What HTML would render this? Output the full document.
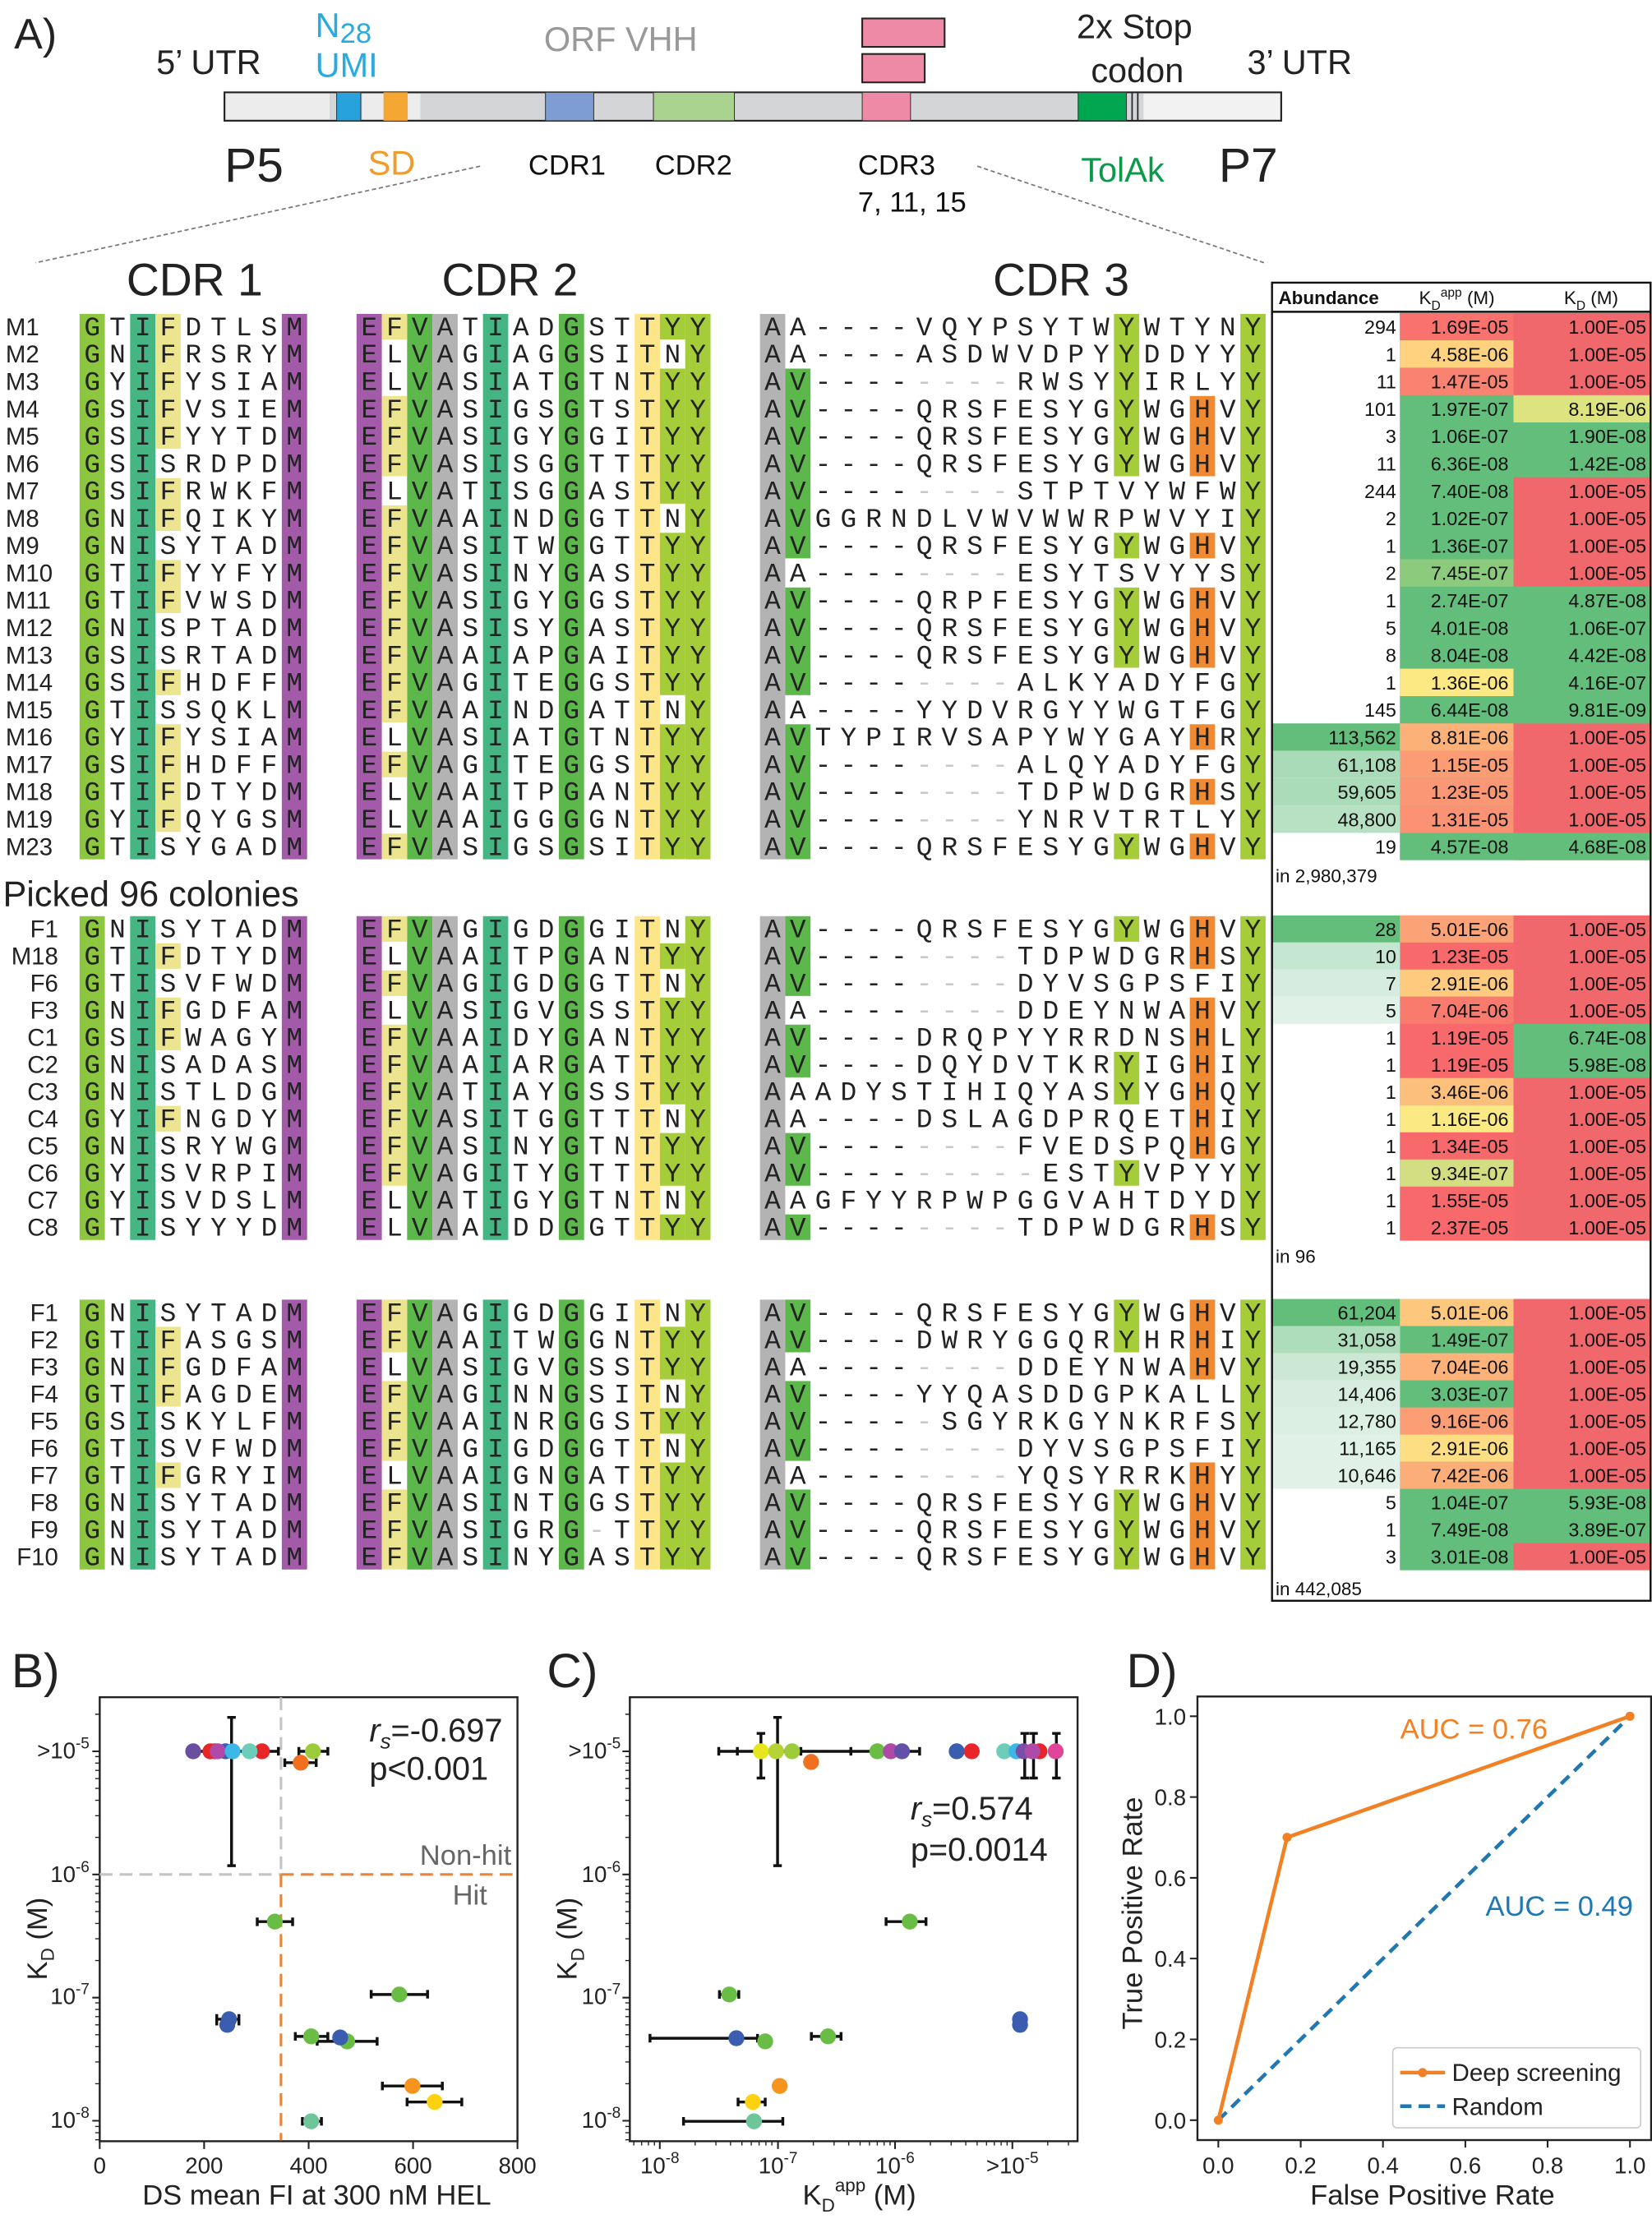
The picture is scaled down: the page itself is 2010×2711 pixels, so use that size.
<!DOCTYPE html>
<html><head><meta charset="utf-8"><style>
html,body{margin:0;padding:0;background:#fff;width:2010px;height:2711px;overflow:hidden}
svg{display:block}
text{font-family:"Liberation Sans",sans-serif}
.s{font-family:"Liberation Mono",monospace;font-size:19px;letter-spacing:6.4px;fill:#222}
.g{fill:#c8c8c8}
.n{font-size:17px;fill:#222}
.ne{font-size:17px;fill:#222;text-anchor:end}
.t{font-size:13.5px;fill:#111;text-anchor:end}
.tk{font-size:16px;fill:#222}
</style></head><body>
<svg xmlns="http://www.w3.org/2000/svg" width="2010" height="2711" viewBox="0 0 1163 1568.6">
<rect width="1163" height="1568.6" fill="#fff"/>
<!-- Panel A diagram -->
<text x="10" y="34" font-size="30" fill="#222">A)</text>
<text x="110" y="52" font-size="24" fill="#222">5’ UTR</text>
<text x="222" y="26" font-size="24" fill="#29aae1">N<tspan font-size="20" dy="4">28</tspan></text>
<text x="222" y="54" font-size="24" fill="#29aae1">UMI</text>
<text x="383" y="36" font-size="24" fill="#999">ORF VHH</text>
<text x="758" y="27" font-size="24" fill="#222">2x Stop</text>
<text x="768" y="58" font-size="24" fill="#222">codon</text>
<text x="878" y="52" font-size="24" fill="#222">3’ UTR</text>
<rect x="158" y="65" width="744" height="20" fill="#d4d5d6" stroke="#222" stroke-width="1.2"/>
<rect x="159" y="66" width="73" height="18" fill="#ececec"/>
<rect x="255" y="66" width="41" height="18" fill="#ececec"/>
<rect x="805" y="66" width="96" height="18" fill="#f2f2f2"/>
<rect x="237" y="65" width="17" height="20" fill="#27a2dc" stroke="#333" stroke-width="0.6"/>
<rect x="270" y="65" width="17" height="20" fill="#f5a733"/>
<rect x="384" y="65" width="34" height="20" fill="#7e9dd2" stroke="#333" stroke-width="0.6"/>
<rect x="460" y="65" width="57" height="20" fill="#a9d38e" stroke="#333" stroke-width="0.6"/>
<rect x="607" y="65" width="34" height="20" fill="#ee8aa6" stroke="#333" stroke-width="0.6"/>
<rect x="607" y="13" width="58" height="20" fill="#ee8aa6" stroke="#222" stroke-width="1.2"/>
<rect x="607" y="38" width="44" height="20" fill="#ee8aa6" stroke="#222" stroke-width="1.2"/>
<rect x="759" y="65" width="34" height="20" fill="#00a650" stroke="#333" stroke-width="0.6"/>
<line x1="797" y1="65" x2="797" y2="85" stroke="#222" stroke-width="1"/>
<line x1="801" y1="65" x2="801" y2="85" stroke="#222" stroke-width="1"/>
<text x="158" y="128" font-size="34" fill="#222">P5</text>
<text x="259" y="123" font-size="24" fill="#f29b2a">SD</text>
<text x="372" y="123" font-size="20" fill="#111">CDR1</text>
<text x="461" y="123" font-size="20" fill="#111">CDR2</text>
<text x="604" y="123" font-size="20" fill="#111">CDR3</text>
<text x="604" y="149" font-size="20" fill="#111">7, 11, 15</text>
<text x="761" y="128" font-size="24" fill="#0a9a4a">TolAk</text>
<text x="858" y="128" font-size="34" fill="#222">P7</text>
<line x1="338" y1="117" x2="25" y2="185" stroke="#777" stroke-width="1" stroke-dasharray="3,2"/>
<line x1="688" y1="117" x2="890" y2="185" stroke="#777" stroke-width="1" stroke-dasharray="3,2"/>
<text x="137" y="208" font-size="32" fill="#222" text-anchor="middle">CDR 1</text>
<text x="359" y="208" font-size="32" fill="#222" text-anchor="middle">CDR 2</text>
<text x="747" y="208" font-size="32" fill="#222" text-anchor="middle">CDR 3</text>
<text x="2" y="638" font-size="25" fill="#222">Picked 96 colonies</text>

<!-- ===== full column backgrounds ===== -->
<g fill="#8dc63f">
<rect x="56" y="221" width="17.8" height="384"/><rect x="56" y="645" width="17.8" height="228"/><rect x="56" y="915" width="17.8" height="190"/>
</g>
<g fill="#45b583">
<rect x="91.6" y="221" width="17.8" height="384"/><rect x="91.6" y="645" width="17.8" height="228"/><rect x="91.6" y="915" width="17.8" height="190"/>
<rect x="340" y="221" width="17.8" height="384"/><rect x="340" y="645" width="17.8" height="228"/><rect x="340" y="915" width="17.8" height="190"/>
</g>
<g fill="#a35ba9">
<rect x="198.4" y="221" width="17.8" height="384"/><rect x="198.4" y="645" width="17.8" height="228"/><rect x="198.4" y="915" width="17.8" height="190"/>
<rect x="251" y="221" width="17.8" height="384"/><rect x="251" y="645" width="17.8" height="228"/><rect x="251" y="915" width="17.8" height="190"/>
</g>
<g fill="#5cb84a">
<rect x="286.6" y="221" width="17.8" height="384"/><rect x="286.6" y="645" width="17.8" height="228"/><rect x="286.6" y="915" width="17.8" height="190"/>
<rect x="393.4" y="221" width="17.8" height="384"/><rect x="393.4" y="645" width="17.8" height="228"/><rect x="393.4" y="915" width="17.8" height="190"/>
</g>
<g fill="#b3b3b3">
<rect x="304.4" y="221" width="17.8" height="384"/><rect x="304.4" y="645" width="17.8" height="228"/><rect x="304.4" y="915" width="17.8" height="190"/>
<rect x="535" y="221" width="17.8" height="384"/><rect x="535" y="645" width="17.8" height="228"/><rect x="535" y="915" width="17.8" height="190"/>
</g>
<g fill="#fde58a">
<rect x="446.8" y="221" width="17.8" height="384"/><rect x="446.8" y="645" width="17.8" height="228"/><rect x="446.8" y="915" width="17.8" height="190"/>
</g>
<g fill="#a4cd39">
<rect x="482.4" y="221" width="17.8" height="384"/><rect x="482.4" y="645" width="17.8" height="228"/><rect x="482.4" y="915" width="17.8" height="190"/>
<rect x="873.2" y="221" width="17.8" height="384"/><rect x="873.2" y="645" width="17.8" height="228"/><rect x="873.2" y="915" width="17.8" height="190"/>
</g>
<g fill="#ece48e">
<rect x="109.4" y="221" width="17.8" height="95"/><rect x="109.4" y="336.6" width="17.8" height="37.2"/><rect x="109.4" y="394.3" width="17.8" height="37.3"/><rect x="109.4" y="471.4" width="17.8" height="18"/><rect x="109.4" y="509.9" width="17.8" height="75.8"/>
<rect x="109.4" y="664.1" width="17.8" height="18"/><rect x="109.4" y="702.3" width="17.8" height="37.1"/><rect x="109.4" y="778.6" width="17.8" height="18"/>
<rect x="109.4" y="934.1" width="17.8" height="56.2"/><rect x="109.4" y="1029.6" width="17.8" height="18"/>
<rect x="268.8" y="221" width="17.8" height="18"/><rect x="268.8" y="278.8" width="17.8" height="56.5"/><rect x="268.8" y="355.8" width="17.8" height="152.8"/><rect x="268.8" y="529.2" width="17.8" height="18"/><rect x="268.8" y="586.9" width="17.8" height="18"/>
<rect x="268.8" y="645" width="17.8" height="18"/><rect x="268.8" y="683.2" width="17.8" height="18"/><rect x="268.8" y="721.4" width="17.8" height="113.4"/>
<rect x="268.8" y="915" width="17.8" height="37.1"/><rect x="268.8" y="972.3" width="17.8" height="56.2"/><rect x="268.8" y="1048.7" width="17.8" height="56.2"/>
</g>
<g fill="#a4cd39">
<rect x="464.6" y="221" width="17.8" height="18"/><rect x="464.6" y="259.5" width="17.8" height="95.1"/><rect x="464.6" y="375.1" width="17.8" height="114.3"/><rect x="464.6" y="509.9" width="17.8" height="95"/>
<rect x="464.6" y="664.1" width="17.8" height="18"/><rect x="464.6" y="702.3" width="17.8" height="75.2"/><rect x="464.6" y="797.7" width="17.8" height="37.1"/><rect x="464.6" y="855" width="17.8" height="18"/>
<rect x="464.6" y="934.1" width="17.8" height="37.1"/><rect x="464.6" y="991.4" width="17.8" height="18"/><rect x="464.6" y="1029.6" width="17.8" height="75.3"/>
<rect x="784.2" y="221" width="17.8" height="114.3"/><rect x="784.2" y="375.1" width="17.8" height="18"/><rect x="784.2" y="413.6" width="17.8" height="56.5"/><rect x="784.2" y="586.9" width="17.8" height="18"/>
<rect x="784.2" y="645" width="17.8" height="18"/><rect x="784.2" y="740.5" width="17.8" height="37"/><rect x="784.2" y="816.8" width="17.8" height="18"/>
<rect x="784.2" y="915" width="17.8" height="37.1"/><rect x="784.2" y="1048.7" width="17.8" height="56.2"/>
</g>
<g fill="#5cb84a">
<rect x="552.8" y="259.5" width="17.8" height="133.6"/><rect x="552.8" y="413.6" width="17.8" height="75.8"/><rect x="552.8" y="509.9" width="17.8" height="95"/>
<rect x="552.8" y="645" width="17.8" height="56.2"/><rect x="552.8" y="721.4" width="17.8" height="37.1"/><rect x="552.8" y="797.7" width="17.8" height="37.1"/><rect x="552.8" y="855" width="17.8" height="18"/>
<rect x="552.8" y="915" width="17.8" height="37.1"/><rect x="552.8" y="972.3" width="17.8" height="56.2"/><rect x="552.8" y="1048.7" width="17.8" height="56.2"/>
</g>
<g fill="#f08a32">
<rect x="837.6" y="278.8" width="17.8" height="56.5"/><rect x="837.6" y="375.1" width="17.8" height="18"/><rect x="837.6" y="413.6" width="17.8" height="56.5"/><rect x="837.6" y="509.9" width="17.8" height="18"/><rect x="837.6" y="548.4" width="17.8" height="18"/><rect x="837.6" y="586.9" width="17.8" height="18"/>
<rect x="837.6" y="645" width="17.8" height="37.1"/><rect x="837.6" y="702.3" width="17.8" height="113.4"/><rect x="837.6" y="855" width="17.8" height="18"/>
<rect x="837.6" y="915" width="17.8" height="56.2"/><rect x="837.6" y="1029.6" width="17.8" height="75.3"/>
</g>

<!-- ===== Section 1 sequences ===== -->
<g>
<text class="n" x="4" y="236">M1</text><text class="s" x="59.2" y="236">GTIFDTLSM</text><text class="s" x="254.2" y="236">EFVATIADGSTTYY</text><text class="s" x="538.2" y="236">AA----VQYPSYTWYWTYNY</text>
<text class="n" x="4" y="255.3">M2</text><text class="s" x="59.2" y="255.3">GNIFRSRYM</text><text class="s" x="254.2" y="255.3">ELVAGIAGGSITNY</text><text class="s" x="538.2" y="255.3">AA----ASDWVDPYYDDYYY</text>
<text class="n" x="4" y="274.5">M3</text><text class="s" x="59.2" y="274.5">GYIFYSIAM</text><text class="s" x="254.2" y="274.5">ELVASIATGTNTYY</text><text class="s" x="538.2" y="274.5">AV----<tspan class="g">----</tspan>RWSYYIRLYY</text>
<text class="n" x="4" y="293.8">M4</text><text class="s" x="59.2" y="293.8">GSIFVSIEM</text><text class="s" x="254.2" y="293.8">EFVASIGSGTSTYY</text><text class="s" x="538.2" y="293.8">AV----QRSFESYGYWGHVY</text>
<text class="n" x="4" y="313">M5</text><text class="s" x="59.2" y="313">GSIFYYTDM</text><text class="s" x="254.2" y="313">EFVASIGYGGITYY</text><text class="s" x="538.2" y="313">AV----QRSFESYGYWGHVY</text>
<text class="n" x="4" y="332.3">M6</text><text class="s" x="59.2" y="332.3">GSISRDPDM</text><text class="s" x="254.2" y="332.3">EFVASISGGTTTYY</text><text class="s" x="538.2" y="332.3">AV----QRSFESYGYWGHVY</text>
<text class="n" x="4" y="351.6">M7</text><text class="s" x="59.2" y="351.6">GSIFRWKFM</text><text class="s" x="254.2" y="351.6">ELVATISGGASTYY</text><text class="s" x="538.2" y="351.6">AV----<tspan class="g">----</tspan>STPTVYWFWY</text>
<text class="n" x="4" y="370.8">M8</text><text class="s" x="59.2" y="370.8">GNIFQIKYM</text><text class="s" x="254.2" y="370.8">EFVAAINDGGTTNY</text><text class="s" x="538.2" y="370.8">AVGGRNDLVWVWWRPWVYIY</text>
<text class="n" x="4" y="390.1">M9</text><text class="s" x="59.2" y="390.1">GNISYTADM</text><text class="s" x="254.2" y="390.1">EFVASITWGGTTYY</text><text class="s" x="538.2" y="390.1">AV----QRSFESYGYWGHVY</text>
<text class="n" x="4" y="409.3">M10</text><text class="s" x="59.2" y="409.3">GTIFYYFYM</text><text class="s" x="254.2" y="409.3">EFVASINYGASTYY</text><text class="s" x="538.2" y="409.3">AA----<tspan class="g">----</tspan>ESYTSVYYSY</text>
<text class="n" x="4" y="428.6">M11</text><text class="s" x="59.2" y="428.6">GTIFVWSDM</text><text class="s" x="254.2" y="428.6">EFVASIGYGGSTYY</text><text class="s" x="538.2" y="428.6">AV----QRPFESYGYWGHVY</text>
<text class="n" x="4" y="447.9">M12</text><text class="s" x="59.2" y="447.9">GNISPTADM</text><text class="s" x="254.2" y="447.9">EFVASISYGASTYY</text><text class="s" x="538.2" y="447.9">AV----QRSFESYGYWGHVY</text>
<text class="n" x="4" y="467.1">M13</text><text class="s" x="59.2" y="467.1">GSISRTADM</text><text class="s" x="254.2" y="467.1">EFVAAIAPGAITYY</text><text class="s" x="538.2" y="467.1">AV----QRSFESYGYWGHVY</text>
<text class="n" x="4" y="486.4">M14</text><text class="s" x="59.2" y="486.4">GSIFHDFFM</text><text class="s" x="254.2" y="486.4">EFVAGITEGGSTYY</text><text class="s" x="538.2" y="486.4">AV----<tspan class="g">----</tspan>ALKYADYFGY</text>
<text class="n" x="4" y="505.6">M15</text><text class="s" x="59.2" y="505.6">GTISSQKLM</text><text class="s" x="254.2" y="505.6">EFVAAINDGATTNY</text><text class="s" x="538.2" y="505.6">AA----YYDVRGYYWGTFGY</text>
<text class="n" x="4" y="524.9">M16</text><text class="s" x="59.2" y="524.9">GYIFYSIAM</text><text class="s" x="254.2" y="524.9">ELVASIATGTNTYY</text><text class="s" x="538.2" y="524.9">AVTYPIRVSAPYWYGAYHRY</text>
<text class="n" x="4" y="544.2">M17</text><text class="s" x="59.2" y="544.2">GSIFHDFFM</text><text class="s" x="254.2" y="544.2">EFVAGITEGGSTYY</text><text class="s" x="538.2" y="544.2">AV----<tspan class="g">----</tspan>ALQYADYFGY</text>
<text class="n" x="4" y="563.4">M18</text><text class="s" x="59.2" y="563.4">GTIFDTYDM</text><text class="s" x="254.2" y="563.4">ELVAAITPGANTYY</text><text class="s" x="538.2" y="563.4">AV----<tspan class="g">----</tspan>TDPWDGRHSY</text>
<text class="n" x="4" y="582.7">M19</text><text class="s" x="59.2" y="582.7">GYIFQYGSM</text><text class="s" x="254.2" y="582.7">ELVAAIGGGGNTYY</text><text class="s" x="538.2" y="582.7">AV----<tspan class="g">----</tspan>YNRVTRTLYY</text>
<text class="n" x="4" y="601.9">M23</text><text class="s" x="59.2" y="601.9">GTISYGADM</text><text class="s" x="254.2" y="601.9">EFVASIGSGSITYY</text><text class="s" x="538.2" y="601.9">AV----QRSFESYGYWGHVY</text>
</g>
<!-- ===== Section 2 sequences ===== -->
<g>
<text class="ne" x="41" y="660">F1</text><text class="s" x="59.2" y="660">GNISYTADM</text><text class="s" x="254.2" y="660">EFVAGIGDGGITNY</text><text class="s" x="538.2" y="660">AV----QRSFESYGYWGHVY</text>
<text class="ne" x="41" y="679.1">M18</text><text class="s" x="59.2" y="679.1">GTIFDTYDM</text><text class="s" x="254.2" y="679.1">ELVAAITPGANTYY</text><text class="s" x="538.2" y="679.1">AV----<tspan class="g">----</tspan>TDPWDGRHSY</text>
<text class="ne" x="41" y="698.2">F6</text><text class="s" x="59.2" y="698.2">GTISVFWDM</text><text class="s" x="254.2" y="698.2">EFVAGIGDGGTTNY</text><text class="s" x="538.2" y="698.2">AV----<tspan class="g">----</tspan>DYVSGPSFIY</text>
<text class="ne" x="41" y="717.3">F3</text><text class="s" x="59.2" y="717.3">GNIFGDFAM</text><text class="s" x="254.2" y="717.3">ELVASIGVGSSTYY</text><text class="s" x="538.2" y="717.3">AA----<tspan class="g">----</tspan>DDEYNWAHVY</text>
<text class="ne" x="41" y="736.4">C1</text><text class="s" x="59.2" y="736.4">GSIFWAGYM</text><text class="s" x="254.2" y="736.4">EFVAAIDYGANTYY</text><text class="s" x="538.2" y="736.4">AV----DRQPYYRRDNSHLY</text>
<text class="ne" x="41" y="755.5">C2</text><text class="s" x="59.2" y="755.5">GNISADASM</text><text class="s" x="254.2" y="755.5">EFVAAIARGATTYY</text><text class="s" x="538.2" y="755.5">AV----DQYDVTKRYIGHIY</text>
<text class="ne" x="41" y="774.5">C3</text><text class="s" x="59.2" y="774.5">GNISTLDGM</text><text class="s" x="254.2" y="774.5">EFVATIAYGSSTYY</text><text class="s" x="538.2" y="774.5">AAADYSTIHIQYASYYGHQY</text>
<text class="ne" x="41" y="793.6">C4</text><text class="s" x="59.2" y="793.6">GYIFNGDYM</text><text class="s" x="254.2" y="793.6">EFVASITGGTTTNY</text><text class="s" x="538.2" y="793.6">AA----DSLAGDPRQETHIY</text>
<text class="ne" x="41" y="812.7">C5</text><text class="s" x="59.2" y="812.7">GNISRYWGM</text><text class="s" x="254.2" y="812.7">EFVASINYGTNTYY</text><text class="s" x="538.2" y="812.7">AV----<tspan class="g">----</tspan>FVEDSPQHGY</text>
<text class="ne" x="41" y="831.8">C6</text><text class="s" x="59.2" y="831.8">GYISVRPIM</text><text class="s" x="254.2" y="831.8">EFVAGITYGTTTYY</text><text class="s" x="538.2" y="831.8">AV----<tspan class="g">-----</tspan>ESTYVPYYY</text>
<text class="ne" x="41" y="850.9">C7</text><text class="s" x="59.2" y="850.9">GYISVDSLM</text><text class="s" x="254.2" y="850.9">ELVATIGYGTNTNY</text><text class="s" x="538.2" y="850.9">AAGFYYRPWPGGVAHTDYDY</text>
<text class="ne" x="41" y="870">C8</text><text class="s" x="59.2" y="870">GTISYYYDM</text><text class="s" x="254.2" y="870">ELVAAIDDGGTTYY</text><text class="s" x="538.2" y="870">AV----<tspan class="g">----</tspan>TDPWDGRHSY</text>
</g>
<!-- ===== Section 3 sequences ===== -->
<g>
<text class="ne" x="41" y="930">F1</text><text class="s" x="59.2" y="930">GNISYTADM</text><text class="s" x="254.2" y="930">EFVAGIGDGGITNY</text><text class="s" x="538.2" y="930">AV----QRSFESYGYWGHVY</text>
<text class="ne" x="41" y="949.1">F2</text><text class="s" x="59.2" y="949.1">GTIFASGSM</text><text class="s" x="254.2" y="949.1">EFVAAITWGGNTYY</text><text class="s" x="538.2" y="949.1">AV----DWRYGGQRYHRHIY</text>
<text class="ne" x="41" y="968.2">F3</text><text class="s" x="59.2" y="968.2">GNIFGDFAM</text><text class="s" x="254.2" y="968.2">ELVASIGVGSSTYY</text><text class="s" x="538.2" y="968.2">AA----<tspan class="g">----</tspan>DDEYNWAHVY</text>
<text class="ne" x="41" y="987.3">F4</text><text class="s" x="59.2" y="987.3">GTIFAGDEM</text><text class="s" x="254.2" y="987.3">EFVAGINNGSITNY</text><text class="s" x="538.2" y="987.3">AV----YYQASDDGPKALLY</text>
<text class="ne" x="41" y="1006.4">F5</text><text class="s" x="59.2" y="1006.4">GSISKYLFM</text><text class="s" x="254.2" y="1006.4">EFVAAINRGGSTYY</text><text class="s" x="538.2" y="1006.4">AV----<tspan class="g">-</tspan>SGYRKGYNKRFSY</text>
<text class="ne" x="41" y="1025.5">F6</text><text class="s" x="59.2" y="1025.5">GTISVFWDM</text><text class="s" x="254.2" y="1025.5">EFVAGIGDGGTTNY</text><text class="s" x="538.2" y="1025.5">AV----<tspan class="g">----</tspan>DYVSGPSFIY</text>
<text class="ne" x="41" y="1044.6">F7</text><text class="s" x="59.2" y="1044.6">GTIFGRYIM</text><text class="s" x="254.2" y="1044.6">ELVAAIGNGATTYY</text><text class="s" x="538.2" y="1044.6">AA----<tspan class="g">----</tspan>YQSYRRKHYY</text>
<text class="ne" x="41" y="1063.7">F8</text><text class="s" x="59.2" y="1063.7">GNISYTADM</text><text class="s" x="254.2" y="1063.7">EFVASINTGGSTYY</text><text class="s" x="538.2" y="1063.7">AV----QRSFESYGYWGHVY</text>
<text class="ne" x="41" y="1082.8">F9</text><text class="s" x="59.2" y="1082.8">GNISYTADM</text><text class="s" x="254.2" y="1082.8">EFVASIGRG<tspan class="g">-</tspan>TTYY</text><text class="s" x="538.2" y="1082.8">AV----QRSFESYGYWGHVY</text>
<text class="ne" x="41" y="1101.9">F10</text><text class="s" x="59.2" y="1101.9">GNISYTADM</text><text class="s" x="254.2" y="1101.9">EFVASINYGASTYY</text><text class="s" x="538.2" y="1101.9">AV----QRSFESYGYWGHVY</text>
</g>

<!-- ===== Table ===== -->
<g>
<rect x="985.5" y="220.4" width="80" height="385.2" fill="#63be7b"/>
<rect x="1065.5" y="220.4" width="96.5" height="385.2" fill="#f0686b"/>
<rect x="985.5" y="220.4" width="80" height="19.3" fill="#f9726d"/>
<rect x="985.5" y="239.6" width="80" height="19.3" fill="#fed27f"/>
<rect x="985.5" y="258.9" width="80" height="19.3" fill="#f98370"/>
<rect x="985.5" y="393.7" width="80" height="19.3" fill="#8ccb7e"/>
<rect x="985.5" y="470.8" width="80" height="19.3" fill="#fde984"/>
<rect x="985.5" y="509.3" width="80" height="19.3" fill="#fcb179"/>
<rect x="985.5" y="528.5" width="80" height="19.3" fill="#fb9c75"/>
<rect x="985.5" y="547.8" width="80" height="19.3" fill="#fb9774"/>
<rect x="985.5" y="567.1" width="80" height="19.3" fill="#fa9273"/>
<rect x="1065.5" y="278.2" width="96.5" height="19.3" fill="#dde37e"/>
<rect x="1065.5" y="297.4" width="96.5" height="38.6" fill="#63be7b"/>
<rect x="1065.5" y="413" width="96.5" height="96.4" fill="#63be7b"/>
<rect x="1065.5" y="586.3" width="96.5" height="19.3" fill="#63be7b"/>
<rect x="895.5" y="509.3" width="90" height="19.3" fill="#63be7b"/>
<rect x="895.5" y="528.5" width="90" height="19.3" fill="#a9dbb8"/>
<rect x="895.5" y="547.8" width="90" height="19.3" fill="#abdcb9"/>
<rect x="895.5" y="567.1" width="90" height="19.3" fill="#b8e1c4"/>
<rect x="985.5" y="644.5" width="80" height="229" fill="#f8696b"/>
<rect x="1065.5" y="644.5" width="96.5" height="229" fill="#f0686b"/>
<rect x="985.5" y="644.5" width="80" height="19.1" fill="#fba276"/>
<rect x="985.5" y="682.6" width="80" height="19.1" fill="#fdca7e"/>
<rect x="985.5" y="701.7" width="80" height="19.1" fill="#f97b6e"/>
<rect x="985.5" y="759" width="80" height="19.1" fill="#fdc07c"/>
<rect x="985.5" y="778.1" width="80" height="19.1" fill="#fbe983"/>
<rect x="985.5" y="816.3" width="80" height="19.1" fill="#d2de81"/>
<rect x="1065.5" y="720.8" width="96.5" height="38.2" fill="#63be7b"/>
<rect x="895.5" y="644.5" width="90" height="19.1" fill="#63be7b"/>
<rect x="895.5" y="663.5" width="90" height="19.1" fill="#c5e6d0"/>
<rect x="895.5" y="682.6" width="90" height="19.1" fill="#d6ece0"/>
<rect x="895.5" y="701.7" width="90" height="19.1" fill="#e0f1e7"/>
<rect x="985.5" y="914.5" width="80" height="191" fill="#63be7b"/>
<rect x="1065.5" y="914.5" width="96.5" height="191" fill="#f0686b"/>
<rect x="985.5" y="914.5" width="80" height="19.1" fill="#fdc77d"/>
<rect x="985.5" y="952.7" width="80" height="19.1" fill="#fcb279"/>
<rect x="985.5" y="990.9" width="80" height="19.1" fill="#fb9d75"/>
<rect x="985.5" y="1010" width="80" height="19.1" fill="#fede82"/>
<rect x="985.5" y="1029.1" width="80" height="19.1" fill="#fcae78"/>
<rect x="1065.5" y="1048.2" width="96.5" height="38.2" fill="#63be7b"/>
<rect x="895.5" y="914.5" width="90" height="19.1" fill="#63be7b"/>
<rect x="895.5" y="933.6" width="90" height="19.1" fill="#aeddbc"/>
<rect x="895.5" y="952.7" width="90" height="19.1" fill="#cce8d5"/>
<rect x="895.5" y="971.8" width="90" height="19.1" fill="#d8ede0"/>
<rect x="895.5" y="990.9" width="90" height="19.1" fill="#dcefe3"/>
<rect x="895.5" y="1010" width="90" height="19.1" fill="#e0f1e7"/>
<rect x="895.5" y="1029.1" width="90" height="19.1" fill="#e1f1e8"/>
<rect x="895.5" y="199" width="266.5" height="928" fill="none" stroke="#111" stroke-width="1.4"/>
<line x1="895.5" y1="219.5" x2="1162" y2="219.5" stroke="#111" stroke-width="1.4"/>
<text x="900" y="214" font-size="13" font-weight="bold" fill="#111">Abundance</text>
<text x="999" y="214" font-size="13" fill="#111">K<tspan font-size="9" dy="4">D</tspan><tspan font-size="9" dy="-9">app</tspan><tspan dy="5"> (M)</tspan></text>
<text x="1101" y="214" font-size="13" fill="#111">K<tspan font-size="9" dy="4">D</tspan><tspan dy="-4"> (M)</tspan></text>
<text x="898" y="621" font-size="13" fill="#111">in 2,980,379</text>
<text x="898" y="889" font-size="13" fill="#111">in 96</text>
<text x="898" y="1123" font-size="13" fill="#111">in 442,085</text>
</g>
<g>
<text class="t" x="983" y="235">294</text><text class="t" x="1062" y="235">1.69E-05</text><text class="t" x="1159" y="235">1.00E-05</text>
<text class="t" x="983" y="254.3">1</text><text class="t" x="1062" y="254.3">4.58E-06</text><text class="t" x="1159" y="254.3">1.00E-05</text>
<text class="t" x="983" y="273.5">11</text><text class="t" x="1062" y="273.5">1.47E-05</text><text class="t" x="1159" y="273.5">1.00E-05</text>
<text class="t" x="983" y="292.8">101</text><text class="t" x="1062" y="292.8">1.97E-07</text><text class="t" x="1159" y="292.8">8.19E-06</text>
<text class="t" x="983" y="312">3</text><text class="t" x="1062" y="312">1.06E-07</text><text class="t" x="1159" y="312">1.90E-08</text>
<text class="t" x="983" y="331.3">11</text><text class="t" x="1062" y="331.3">6.36E-08</text><text class="t" x="1159" y="331.3">1.42E-08</text>
<text class="t" x="983" y="350.6">244</text><text class="t" x="1062" y="350.6">7.40E-08</text><text class="t" x="1159" y="350.6">1.00E-05</text>
<text class="t" x="983" y="369.8">2</text><text class="t" x="1062" y="369.8">1.02E-07</text><text class="t" x="1159" y="369.8">1.00E-05</text>
<text class="t" x="983" y="389.1">1</text><text class="t" x="1062" y="389.1">1.36E-07</text><text class="t" x="1159" y="389.1">1.00E-05</text>
<text class="t" x="983" y="408.3">2</text><text class="t" x="1062" y="408.3">7.45E-07</text><text class="t" x="1159" y="408.3">1.00E-05</text>
<text class="t" x="983" y="427.6">1</text><text class="t" x="1062" y="427.6">2.74E-07</text><text class="t" x="1159" y="427.6">4.87E-08</text>
<text class="t" x="983" y="446.9">5</text><text class="t" x="1062" y="446.9">4.01E-08</text><text class="t" x="1159" y="446.9">1.06E-07</text>
<text class="t" x="983" y="466.1">8</text><text class="t" x="1062" y="466.1">8.04E-08</text><text class="t" x="1159" y="466.1">4.42E-08</text>
<text class="t" x="983" y="485.4">1</text><text class="t" x="1062" y="485.4">1.36E-06</text><text class="t" x="1159" y="485.4">4.16E-07</text>
<text class="t" x="983" y="504.6">145</text><text class="t" x="1062" y="504.6">6.44E-08</text><text class="t" x="1159" y="504.6">9.81E-09</text>
<text class="t" x="983" y="523.9">113,562</text><text class="t" x="1062" y="523.9">8.81E-06</text><text class="t" x="1159" y="523.9">1.00E-05</text>
<text class="t" x="983" y="543.2">61,108</text><text class="t" x="1062" y="543.2">1.15E-05</text><text class="t" x="1159" y="543.2">1.00E-05</text>
<text class="t" x="983" y="562.4">59,605</text><text class="t" x="1062" y="562.4">1.23E-05</text><text class="t" x="1159" y="562.4">1.00E-05</text>
<text class="t" x="983" y="581.7">48,800</text><text class="t" x="1062" y="581.7">1.31E-05</text><text class="t" x="1159" y="581.7">1.00E-05</text>
<text class="t" x="983" y="600.9">19</text><text class="t" x="1062" y="600.9">4.57E-08</text><text class="t" x="1159" y="600.9">4.68E-08</text>

<text class="t" x="983" y="659">28</text><text class="t" x="1062" y="659">5.01E-06</text><text class="t" x="1159" y="659">1.00E-05</text>
<text class="t" x="983" y="678.1">10</text><text class="t" x="1062" y="678.1">1.23E-05</text><text class="t" x="1159" y="678.1">1.00E-05</text>
<text class="t" x="983" y="697.2">7</text><text class="t" x="1062" y="697.2">2.91E-06</text><text class="t" x="1159" y="697.2">1.00E-05</text>
<text class="t" x="983" y="716.3">5</text><text class="t" x="1062" y="716.3">7.04E-06</text><text class="t" x="1159" y="716.3">1.00E-05</text>
<text class="t" x="983" y="735.4">1</text><text class="t" x="1062" y="735.4">1.19E-05</text><text class="t" x="1159" y="735.4">6.74E-08</text>
<text class="t" x="983" y="754.5">1</text><text class="t" x="1062" y="754.5">1.19E-05</text><text class="t" x="1159" y="754.5">5.98E-08</text>
<text class="t" x="983" y="773.5">1</text><text class="t" x="1062" y="773.5">3.46E-06</text><text class="t" x="1159" y="773.5">1.00E-05</text>
<text class="t" x="983" y="792.6">1</text><text class="t" x="1062" y="792.6">1.16E-06</text><text class="t" x="1159" y="792.6">1.00E-05</text>
<text class="t" x="983" y="811.7">1</text><text class="t" x="1062" y="811.7">1.34E-05</text><text class="t" x="1159" y="811.7">1.00E-05</text>
<text class="t" x="983" y="830.8">1</text><text class="t" x="1062" y="830.8">9.34E-07</text><text class="t" x="1159" y="830.8">1.00E-05</text>
<text class="t" x="983" y="849.9">1</text><text class="t" x="1062" y="849.9">1.55E-05</text><text class="t" x="1159" y="849.9">1.00E-05</text>
<text class="t" x="983" y="869">1</text><text class="t" x="1062" y="869">2.37E-05</text><text class="t" x="1159" y="869">1.00E-05</text>

<text class="t" x="983" y="929">61,204</text><text class="t" x="1062" y="929">5.01E-06</text><text class="t" x="1159" y="929">1.00E-05</text>
<text class="t" x="983" y="948.1">31,058</text><text class="t" x="1062" y="948.1">1.49E-07</text><text class="t" x="1159" y="948.1">1.00E-05</text>
<text class="t" x="983" y="967.2">19,355</text><text class="t" x="1062" y="967.2">7.04E-06</text><text class="t" x="1159" y="967.2">1.00E-05</text>
<text class="t" x="983" y="986.3">14,406</text><text class="t" x="1062" y="986.3">3.03E-07</text><text class="t" x="1159" y="986.3">1.00E-05</text>
<text class="t" x="983" y="1005.4">12,780</text><text class="t" x="1062" y="1005.4">9.16E-06</text><text class="t" x="1159" y="1005.4">1.00E-05</text>
<text class="t" x="983" y="1024.5">11,165</text><text class="t" x="1062" y="1024.5">2.91E-06</text><text class="t" x="1159" y="1024.5">1.00E-05</text>
<text class="t" x="983" y="1043.6">10,646</text><text class="t" x="1062" y="1043.6">7.42E-06</text><text class="t" x="1159" y="1043.6">1.00E-05</text>
<text class="t" x="983" y="1062.7">5</text><text class="t" x="1062" y="1062.7">1.04E-07</text><text class="t" x="1159" y="1062.7">5.93E-08</text>
<text class="t" x="983" y="1081.8">1</text><text class="t" x="1062" y="1081.8">7.49E-08</text><text class="t" x="1159" y="1081.8">3.89E-07</text>
<text class="t" x="983" y="1100.9">3</text><text class="t" x="1062" y="1100.9">3.01E-08</text><text class="t" x="1159" y="1100.9">1.00E-05</text>
</g>

<!-- ===== Panel B ===== -->
<text x="8" y="1188" font-size="34" fill="#222">B)</text>
<rect x="70.2" y="1194.9" width="294.1" height="312.6" fill="none" stroke="#222" stroke-width="1.4"/>
<path d="M65 1233H70.2M65 1319.7H70.2M65 1406.4H70.2M65 1493.1H70.2" stroke="#222" stroke-width="1.2"/>
<path d="M67 1206.9H70.2M67 1236.7H70.2M67 1241.3H70.2M67 1246.4H70.2M67 1252.2H70.2M67 1259.1H70.2M67 1267.5H70.2M67 1278.3H70.2M67 1293.6H70.2M67 1323.4H70.2M67 1328H70.2M67 1333.1H70.2M67 1338.9H70.2M67 1345.8H70.2M67 1354.2H70.2M67 1365H70.2M67 1380.3H70.2M67 1410.1H70.2M67 1414.7H70.2M67 1419.8H70.2M67 1425.6H70.2M67 1432.5H70.2M67 1440.9H70.2M67 1451.7H70.2M67 1467H70.2M67 1497.1H70.2M67 1501.5H70.2M67 1506.5H70.2" stroke="#222" stroke-width="0.8"/>
<g class="tk" text-anchor="end">
<text x="63" y="1238">&gt;10<tspan font-size="11" dy="-7">-5</tspan></text>
<text x="63" y="1325">10<tspan font-size="11" dy="-7">-6</tspan></text>
<text x="63" y="1411">10<tspan font-size="11" dy="-7">-7</tspan></text>
<text x="63" y="1498">10<tspan font-size="11" dy="-7">-8</tspan></text>
</g>
<path d="M70.2 1507.5V1513M143.7 1507.5V1513M217.3 1507.5V1513M290.8 1507.5V1513M364.3 1507.5V1513" stroke="#222" stroke-width="1.2"/>
<g class="tk" text-anchor="middle" font-size="17">
<text x="70.2" y="1530">0</text><text x="143.7" y="1530">200</text><text x="217.3" y="1530">400</text><text x="290.8" y="1530">600</text><text x="364.3" y="1530">800</text>
</g>
<text x="223" y="1552" font-size="20" text-anchor="middle" fill="#222">DS mean FI at 300 nM HEL</text>
<text transform="translate(33,1365) rotate(-90)" font-size="20" text-anchor="middle" fill="#222">K<tspan font-size="13" dy="5">D</tspan><tspan dy="-5"> (M)</tspan></text>
<g stroke-width="1.8" stroke-dasharray="9,5">
<line x1="197.8" y1="1195" x2="197.8" y2="1319.7" stroke="#c4c4c4"/>
<line x1="70.2" y1="1319.7" x2="197.8" y2="1319.7" stroke="#c4c4c4"/>
<line x1="197.8" y1="1319.7" x2="197.8" y2="1507" stroke="#e8853a"/>
<line x1="197.8" y1="1319.7" x2="364" y2="1319.7" stroke="#e8853a"/>
</g>
<text x="360" y="1313" font-size="20" text-anchor="end" fill="#666">Non-hit</text>
<text x="343" y="1341" font-size="20" text-anchor="end" fill="#666">Hit</text>
<text x="260" y="1226" font-size="23" fill="#222"><tspan font-style="italic">r</tspan><tspan font-size="15" dy="5" font-style="italic">s</tspan><tspan dy="-5">=-0.697</tspan></text>
<text x="260" y="1253" font-size="23" fill="#222">p&lt;0.001</text>
<g stroke="#111" stroke-width="2" fill="none">
<path d="M139 1233H196M139 1230V1236M196 1230V1236"/>
<path d="M163 1209.1V1313.5M160 1209.1H166M160 1313.5H166"/>
<path d="M210.4 1233H230.8M210.4 1230V1236M230.8 1230V1236"/>
<path d="M200.5 1241H222.6M200.5 1238V1244M222.6 1238V1244"/>
<path d="M181.1 1352.9H206M181.1 1350V1356M206 1350V1356"/>
<path d="M261.3 1404.2H301M261.3 1401V1407M301 1401V1407"/>
<path d="M152.6 1421.6H168.2M152.6 1418V1426M168.2 1418V1426"/>
<path d="M207.9 1433.7H230.8M207.9 1430.7V1436.7M230.8 1430.7V1436.7"/>
<path d="M223.3 1437.2H265.5M223.3 1434.2V1440.2M265.5 1434.2V1440.2"/>
<path d="M269.2 1468.6H311.4M269.2 1465.6V1471.6M311.4 1465.6V1471.6"/>
<path d="M286.6 1479.9H325.1M286.6 1476.9V1482.9M325.1 1476.9V1482.9"/>
<path d="M212.9 1493.5H226.3M212.9 1490.5V1496.5M226.3 1490.5V1496.5"/>
</g>
<g>
<circle cx="136" cy="1233" r="5.6" fill="#6a4fa0"/>
<circle cx="148.1" cy="1233" r="5.6" fill="#e8262a"/>
<circle cx="151.4" cy="1233" r="5.6" fill="#e8262a"/>
<circle cx="158.8" cy="1233" r="5.6" fill="#3a5db0"/>
<circle cx="153.3" cy="1233" r="5.6" fill="#b04aa8"/>
<circle cx="163.8" cy="1233" r="5.6" fill="#3bb8e8"/>
<circle cx="184.4" cy="1233" r="5.6" fill="#e8262a"/>
<circle cx="175.7" cy="1233" r="5.6" fill="#6ccdbb"/>
<circle cx="220.3" cy="1233" r="5.6" fill="#9ccb3b"/>
<circle cx="211.7" cy="1241" r="5.6" fill="#f07020"/>
<circle cx="193.5" cy="1352.9" r="5.6" fill="#69bd45"/>
<circle cx="281.1" cy="1404.2" r="5.6" fill="#69bd45"/>
<circle cx="161.3" cy="1421.6" r="5.6" fill="#3a5db0"/>
<circle cx="160" cy="1425.6" r="5.6" fill="#3a5db0"/>
<circle cx="219.1" cy="1433.7" r="5.6" fill="#69bd45"/>
<circle cx="244.4" cy="1437.2" r="5.6" fill="#69bd45"/>
<circle cx="239.5" cy="1434.5" r="5.6" fill="#3a5db0"/>
<circle cx="290.3" cy="1468.6" r="5.6" fill="#f7941d"/>
<circle cx="306" cy="1479.9" r="5.6" fill="#fdd010"/>
<circle cx="219.1" cy="1493.5" r="5.6" fill="#6ec59a"/>
</g>

<!-- ===== Panel C ===== -->
<text x="385" y="1188" font-size="34" fill="#222">C)</text>
<rect x="443.4" y="1194.9" width="315.2" height="312.6" fill="none" stroke="#222" stroke-width="1.4"/>
<path d="M438.2 1233H443.4M438.2 1319.7H443.4M438.2 1406.4H443.4M438.2 1493.1H443.4" stroke="#222" stroke-width="1.2"/>
<path d="M440.2 1206.9H443.4M440.2 1236.7H443.4M440.2 1241.3H443.4M440.2 1246.4H443.4M440.2 1252.2H443.4M440.2 1259.1H443.4M440.2 1267.5H443.4M440.2 1278.3H443.4M440.2 1293.6H443.4M440.2 1323.4H443.4M440.2 1328H443.4M440.2 1333.1H443.4M440.2 1338.9H443.4M440.2 1345.8H443.4M440.2 1354.2H443.4M440.2 1365H443.4M440.2 1380.3H443.4M440.2 1410.1H443.4M440.2 1414.7H443.4M440.2 1419.8H443.4M440.2 1425.6H443.4M440.2 1432.5H443.4M440.2 1440.9H443.4M440.2 1451.7H443.4M440.2 1467H443.4M440.2 1497.1H443.4M440.2 1501.5H443.4M440.2 1506.5H443.4" stroke="#222" stroke-width="0.8"/>
<g class="tk" text-anchor="end">
<text x="437" y="1238">&gt;10<tspan font-size="11" dy="-7">-5</tspan></text>
<text x="437" y="1325">10<tspan font-size="11" dy="-7">-6</tspan></text>
<text x="437" y="1411">10<tspan font-size="11" dy="-7">-7</tspan></text>
<text x="437" y="1498">10<tspan font-size="11" dy="-7">-8</tspan></text>
</g>
<path d="M464.5 1507.5V1513M547.7 1507.5V1513M630.1 1507.5V1513M712.7 1507.5V1513" stroke="#222" stroke-width="1.2"/>
<path d="M446.2 1507.5V1510.5M451.7 1507.5V1510.5M456.5 1507.5V1510.5M460.7 1507.5V1510.5M489.4 1507.5V1510.5M504 1507.5V1510.5M514.3 1507.5V1510.5M522.3 1507.5V1510.5M528.9 1507.5V1510.5M534.4 1507.5V1510.5M539.2 1507.5V1510.5M543.4 1507.5V1510.5M572.6 1507.5V1510.5M587.2 1507.5V1510.5M597.5 1507.5V1510.5M605.5 1507.5V1510.5M612.1 1507.5V1510.5M617.6 1507.5V1510.5M622.4 1507.5V1510.5M626.6 1507.5V1510.5M655 1507.5V1510.5M669.6 1507.5V1510.5M679.9 1507.5V1510.5M687.9 1507.5V1510.5M694.5 1507.5V1510.5M700 1507.5V1510.5M704.8 1507.5V1510.5M709 1507.5V1510.5M737.6 1507.5V1510.5M752.2 1507.5V1510.5" stroke="#222" stroke-width="0.8"/>
<g class="tk" text-anchor="middle">
<text x="464.5" y="1530">10<tspan font-size="11" dy="-7">-8</tspan></text>
<text x="547.7" y="1530">10<tspan font-size="11" dy="-7">-7</tspan></text>
<text x="630.1" y="1530">10<tspan font-size="11" dy="-7">-6</tspan></text>
<text x="712.7" y="1530">&gt;10<tspan font-size="11" dy="-7">-5</tspan></text>
</g>
<text x="605" y="1552" font-size="20" text-anchor="middle" fill="#222">K<tspan font-size="13" dy="5">D</tspan><tspan font-size="13" dy="-14">app</tspan><tspan dy="9"> (M)</tspan></text>
<text transform="translate(406,1365) rotate(-90)" font-size="20" text-anchor="middle" fill="#222">K<tspan font-size="13" dy="5">D</tspan><tspan dy="-5"> (M)</tspan></text>
<text x="641" y="1281" font-size="23" fill="#222"><tspan font-style="italic">r</tspan><tspan font-size="15" dy="5" font-style="italic">s</tspan><tspan dy="-5">=0.574</tspan></text>
<text x="641" y="1310" font-size="23" fill="#222">p=0.0014</text>
<g stroke="#111" stroke-width="2" fill="none">
<path d="M506 1233H647.4M506 1230V1236M647.4 1230V1236M519.1 1230V1236M563.8 1230V1236M599 1230V1236"/>
<path d="M535.7 1220.4V1251.8M532.7 1220.4H538.7M532.7 1251.8H538.7"/>
<path d="M547.4 1209.1V1313.5M544.4 1209.1H550.4M544.4 1313.5H550.4"/>
<path d="M721.4 1220.4V1251.8M718.4 1220.4H724.4M718.4 1251.8H724.4"/>
<path d="M727.6 1220.4V1251.8M724.6 1220.4H730.6M724.6 1251.8H730.6"/>
<path d="M743.7 1220.4V1251.8M740.7 1220.4H746.7M740.7 1251.8H746.7"/>
<path d="M623.8 1352.9H651.9M623.8 1349.9V1355.9M651.9 1349.9V1355.9"/>
<path d="M506.5 1404.2H520.1M506.5 1401.2V1407.2M520.1 1401.2V1407.2"/>
<path d="M457.6 1435H533.3M457.6 1432V1438M533.3 1432V1438"/>
<path d="M571.2 1433.7H592.1M571.2 1430.7V1436.7M592.1 1430.7V1436.7"/>
<path d="M519.6 1479.9H538.7M519.6 1476.9V1482.9M538.7 1476.9V1482.9"/>
<path d="M481.2 1493.5H551.1M481.2 1490.5V1496.5M551.1 1490.5V1496.5"/>
</g>
<g>
<circle cx="535.7" cy="1233" r="5.6" fill="#e6e61e"/>
<circle cx="546.4" cy="1233" r="5.6" fill="#b5d334"/>
<circle cx="557.6" cy="1233" r="5.6" fill="#9ccb3b"/>
<circle cx="571" cy="1240.5" r="5.6" fill="#f07020"/>
<circle cx="617.6" cy="1233" r="5.6" fill="#69bd45"/>
<circle cx="627.1" cy="1233" r="5.6" fill="#b04aa8"/>
<circle cx="635" cy="1233" r="5.6" fill="#6350a8"/>
<circle cx="673.5" cy="1233" r="5.6" fill="#3a5db0"/>
<circle cx="684.1" cy="1233" r="5.6" fill="#e8262a"/>
<circle cx="707" cy="1233" r="5.6" fill="#6ccdbb"/>
<circle cx="715.6" cy="1233" r="5.6" fill="#3bb8e8"/>
<circle cx="720.6" cy="1233" r="5.6" fill="#7a4fa8"/>
<circle cx="731.8" cy="1233" r="5.6" fill="#e8262a"/>
<circle cx="726.8" cy="1233" r="5.6" fill="#b04aa8"/>
<circle cx="743.2" cy="1233" r="5.6" fill="#e0459a"/>
<circle cx="640.5" cy="1352.9" r="5.6" fill="#69bd45"/>
<circle cx="513.4" cy="1404.2" r="5.6" fill="#69bd45"/>
<circle cx="718.1" cy="1421.6" r="5.6" fill="#3a5db0"/>
<circle cx="718.1" cy="1425.6" r="5.6" fill="#3a5db0"/>
<circle cx="518.4" cy="1435" r="5.6" fill="#3a5db0"/>
<circle cx="538.7" cy="1437.2" r="5.6" fill="#69bd45"/>
<circle cx="582.9" cy="1433.7" r="5.6" fill="#69bd45"/>
<circle cx="548.9" cy="1468.6" r="5.6" fill="#f7941d"/>
<circle cx="530" cy="1479.9" r="5.6" fill="#fdd010"/>
<circle cx="530.8" cy="1493.5" r="5.6" fill="#6ec59a"/>
</g>

<!-- ===== Panel D ===== -->
<text x="793" y="1188" font-size="34" fill="#222">D)</text>
<rect x="843" y="1194.4" width="319.4" height="312.3" fill="none" stroke="#222" stroke-width="1.4"/>
<path d="M857.7 1506.7V1512M915.7 1506.7V1512M973.6 1506.7V1512M1031.6 1506.7V1512M1089.5 1506.7V1512M1147.5 1506.7V1512M837.7 1492.7H843M837.7 1435.8H843M837.7 1378.9H843M837.7 1322.1H843M837.7 1265.2H843M837.7 1208.3H843" stroke="#222" stroke-width="1.2"/>
<g class="tk" font-size="16" text-anchor="middle">
<text x="857.7" y="1530">0.0</text><text x="915.7" y="1530">0.2</text><text x="973.6" y="1530">0.4</text><text x="1031.6" y="1530">0.6</text><text x="1089.5" y="1530">0.8</text><text x="1147.5" y="1530">1.0</text>
</g>
<g class="tk" font-size="16" text-anchor="end">
<text x="835" y="1498.5">0.0</text><text x="835" y="1441.6">0.2</text><text x="835" y="1384.7">0.4</text><text x="835" y="1327.9">0.6</text><text x="835" y="1271">0.8</text><text x="835" y="1214.1">1.0</text>
</g>
<text x="1008.5" y="1552" font-size="20" text-anchor="middle" fill="#222">False Positive Rate</text>
<text transform="translate(804,1347) rotate(-90)" font-size="20" text-anchor="middle" fill="#222">True Positive Rate</text>
<line x1="857.7" y1="1492.7" x2="1147.5" y2="1208.3" stroke="#1f77b4" stroke-width="2.6" stroke-dasharray="8,5"/>
<polyline points="857.7,1492.7 906.1,1293.6 1147.5,1208.3" fill="none" stroke="#f28024" stroke-width="2.6"/>
<circle cx="857.7" cy="1492.7" r="3.2" fill="#f28024"/><circle cx="906.1" cy="1293.6" r="3.2" fill="#f28024"/><circle cx="1147.5" cy="1208.3" r="3.2" fill="#f28024"/>
<text x="985.7" y="1224" font-size="20" fill="#f28024">AUC = 0.76</text>
<text x="1045.8" y="1348.6" font-size="20" fill="#1f77b4">AUC = 0.49</text>
<rect x="980.5" y="1441.7" width="174.5" height="56.4" rx="3" fill="#fff" stroke="#ccc" stroke-width="1"/>
<line x1="985.7" y1="1459.2" x2="1017.3" y2="1459.2" stroke="#f28024" stroke-width="2.6"/>
<circle cx="1001.5" cy="1459.2" r="3.2" fill="#f28024"/>
<line x1="985.7" y1="1482.8" x2="1017.3" y2="1482.8" stroke="#1f77b4" stroke-width="2.6" stroke-dasharray="8,5"/>
<text x="1022.2" y="1465" font-size="17" fill="#222">Deep screening</text>
<text x="1022.2" y="1489" font-size="17" fill="#222">Random</text>
</svg>
</body></html>
